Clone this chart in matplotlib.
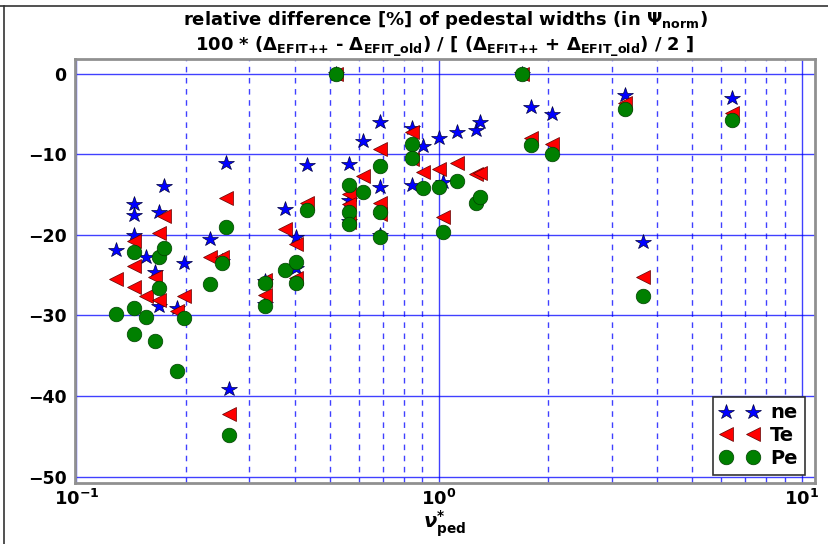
import matplotlib
matplotlib.use("Agg")
import matplotlib.pyplot as plt
from matplotlib.lines import Line2D
from matplotlib.ticker import LogLocator, NullFormatter

# collisionality at the pedestal, one entry per shot
nu_ped = [0.1285, 0.1442, 0.1442, 0.1442, 0.1555, 0.1647, 0.169, 0.169,
          0.1743, 0.1893, 0.198, 0.2334, 0.2519, 0.2584, 0.2636, 0.331,
          0.331, 0.3759, 0.4033, 0.4033, 0.4325, 0.520, 0.565, 0.565,
          0.565, 0.617, 0.687, 0.687, 0.687, 0.842, 0.842, 0.904,
          1.0, 1.026, 1.121, 1.265, 1.298, 1.693, 1.794, 2.05,
          3.26, 3.65, 6.43]

# relative difference [%] of pedestal widths
ne_diff = [-21.9, -16.2, -17.5, -20.0, -22.8, -24.6, -17.2, -28.8,
           -14.0, -29.1, -23.5, -20.5, -23.3, -11.1, -39.1, -25.8,
           -28.6, -16.8, -20.3, -24.1, -11.4, 0.0, -11.2, -15.7,
           -18.3, -8.4, -6.0, -14.1, -20.0, -6.7, -13.8, -9.0,
           -8.0, -13.5, -7.3, -7.0, -6.0, 0.0, -4.1, -5.0,
           -2.7, -20.9, -3.1]
te_diff = [-25.5, -20.8, -23.9, -26.5, -27.6, -25.2, -19.8, -28.1,
           -17.7, -29.5, -27.6, -22.8, -22.8, -15.5, -42.3, -25.6,
           -27.5, -19.3, -21.1, -25.4, -16.1, 0.0, -15.0, -16.2,
           -18.4, -12.7, -9.4, -16.1, -17.4, -7.3, -10.6, -12.2,
           -11.9, -17.8, -11.1, -12.5, -12.4, 0.0, -8.0, -8.8,
           -3.7, -25.2, -4.9]
pe_diff = [-29.8, -22.1, -29.1, -32.3, -30.2, -33.2, -22.8, -26.6,
           -21.6, -36.9, -30.3, -26.1, -23.5, -19.0, -44.9, -26.0,
           -28.8, -24.4, -23.4, -26.0, -16.9, 0.0, -13.8, -17.2,
           -18.7, -14.7, -11.5, -17.2, -20.3, -8.8, -10.5, -14.2,
           -14.1, -19.7, -13.3, -16.1, -15.3, 0.0, -8.9, -10.0,
           -4.4, -27.6, -5.8]

plt.rcParams["font.family"] = "DejaVu Sans"
plt.rcParams["font.weight"] = "bold"
plt.rcParams["mathtext.default"] = "bf"

fig = plt.figure(figsize=(8.29, 5.44), dpi=100)
ax = fig.add_axes([75 / 829, 1 - 483 / 544, 740 / 829, 424 / 544])

ax.plot(nu_ped, ne_diff, ls="none", marker="*", ms=11.5, mfc="blue",
        mec="#000040", mew=0.5, label="ne")
ax.plot(nu_ped, te_diff, ls="none", marker="<", ms=10, mfc="red",
        mec="#600000", mew=0.5, label="Te")
ax.plot(nu_ped, pe_diff, ls="none", marker="o", ms=10.5, mfc="green",
        mec="#004000", mew=0.5, label="Pe")

ax.set_xscale("log")
ax.set_xlim(0.0991, 10.89)
ax.set_ylim(-50.8, 1.8)
ax.set_yticks([0, -10, -20, -30, -40, -50])
ax.xaxis.set_minor_locator(LogLocator(base=10, subs=range(2, 10)))
ax.xaxis.set_minor_formatter(NullFormatter())

ax.grid(True, which="major", color="blue", lw=1.0, alpha=0.75)
ax.grid(True, which="minor", axis="x", color="blue", lw=1.0, ls=(0, (4, 4)), alpha=0.75)
ax.set_axisbelow(True)

for side in ax.spines.values():
    side.set_color("#909090")
    side.set_linewidth(2)
ax.tick_params(which="both", length=0, labelsize=12.5, pad=6)
ax.tick_params(axis="x", labelsize=13, pad=4)

ax.set_title(r"relative difference [%] of pedestal widths (in $\Psi_{norm}$)" "\n"
             r"100 * ($\Delta_{EFIT{+}{+}}$ - $\Delta_{EFIT\_old}$) / "
             r"[ ($\Delta_{EFIT{+}{+}}$ + $\Delta_{EFIT\_old}$) / 2 ]",
             fontsize=13, fontweight="bold", pad=4, linespacing=1.25)
ax.set_xlabel(r"$\mathbfit{\nu}^{*}_{ped}$", fontsize=14, labelpad=0)

leg = ax.legend(loc="lower right", numpoints=2, fontsize=14, fancybox=False,
                framealpha=1, edgecolor="#333333", handletextpad=0.6,
                borderpad=0.35, labelspacing=0.2, borderaxespad=0,
                bbox_to_anchor=(0.986, 0.019))
leg.get_frame().set_linewidth(1.2)

# frame lines along the top and left of the figure
fig.add_artist(Line2D([0, 1], [1 - 6 / 544, 1 - 6 / 544], color="#333333", lw=1.2))
fig.add_artist(Line2D([4 / 829, 4 / 829], [0, 1 - 6 / 544], color="#333333", lw=1.2))

fig.savefig("out.png", dpi=100)
